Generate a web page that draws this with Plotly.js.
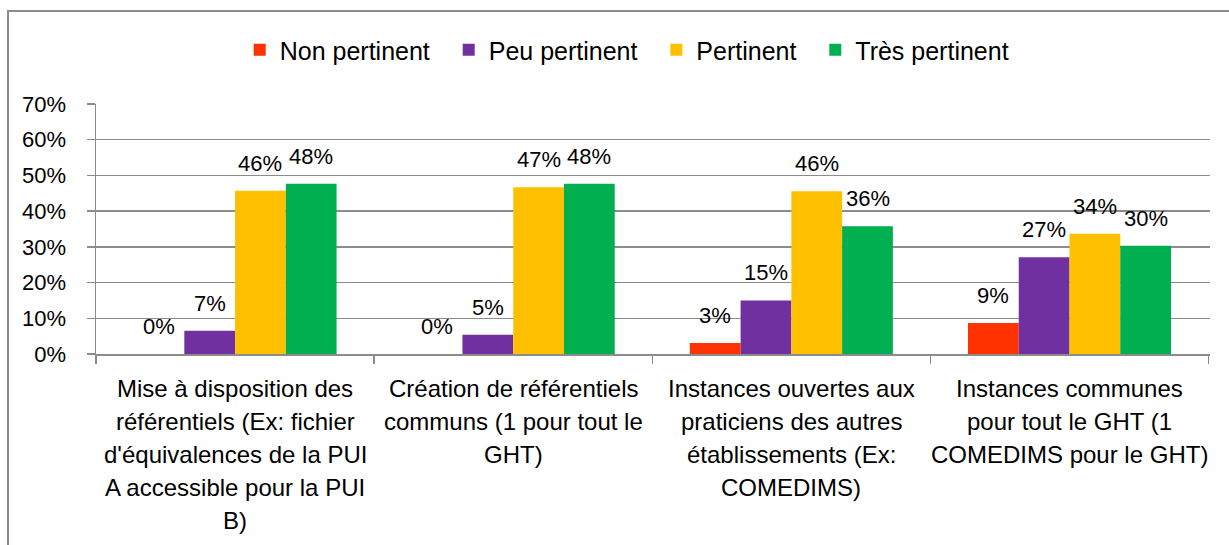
<!DOCTYPE html>
<html>
<head>
<meta charset="utf-8">
<script src="https://cdn.plot.ly/plotly-3.0.1.min.js"></script>
<style>
  html, body { margin: 0; padding: 0; background: #ffffff; }
  #frame { position: absolute; left: 7px; top: 10px; width: 1240px; height: 560px;
           border-left: 2px solid #8c8c8c; border-top: 2px solid #8c8c8c; }
  #chart { position: absolute; left: 0; top: 0; width: 1229px; height: 545px; }
</style>
</head>
<body>
<div id="frame"></div>
<div id="chart"></div>
<script>
const categories = [
  "Mise à disposition des<br>référentiels (Ex: fichier<br>d'équivalences de la PUI<br>A accessible pour la PUI<br>B)",
  "Création de référentiels<br>communs (1 pour tout le<br>GHT)",
  "Instances ouvertes aux<br>praticiens des autres<br>établissements (Ex:<br>COMEDIMS)",
  "Instances communes<br>pour tout le GHT (1<br>COMEDIMS pour le GHT)"
];
const seriesNames = ["Non pertinent", "Peu pertinent", "Pertinent", "Très pertinent"];
const nonPertinent  = [0.000, 0.000, 0.031, 0.087];
const peuPertinent  = [0.065, 0.054, 0.150, 0.271];
const pertinent     = [0.457, 0.467, 0.456, 0.337];
const tresPertinent = [0.477, 0.477, 0.358, 0.303];
const colors = ["#FF3300", "#7030A0", "#FFC000", "#00B050"];

const allValues = [nonPertinent, peuPertinent, pertinent, tresPertinent];
const FONT = "'Liberation Sans', Arial, sans-serif";

const W = 1229, H = 545;
const margin = { l: 96, r: 19, t: 104, b: 191, pad: 0 };
const BARGAP = 0.27;
const plotW = W - margin.l - margin.r;
const barW = plotW / categories.length * (1 - BARGAP) / allValues.length;

const traces = allValues.map((vals, i) => ({
  type: "bar",
  name: seriesNames[i] + "\u00a0\u00a0",
  x: categories,
  y: vals,
  marker: { color: colors[i] },
  hoverinfo: "skip"
}));

const annotations = [];
// data labels above each bar
allValues.forEach((vals, i) => {
  vals.forEach((v, c) => {
    annotations.push({
      x: categories[c], y: v, xref: "x", yref: "y",
      text: Math.round(v * 100) + "%",
      showarrow: false, xanchor: "center", yanchor: "bottom",
      xshift: (i - (allValues.length - 1) / 2) * barW, yshift: 13,
      font: { family: FONT, size: 22, color: "#000000" }
    });
  });
});
// category labels, line by line
categories.forEach((cat) => {
  cat.split("<br>").forEach((line, j) => {
    annotations.push({
      x: cat, y: 0, xref: "x", yref: "paper",
      text: line, showarrow: false, xanchor: "center", yanchor: "middle",
      yshift: -34 - 33 * j,
      font: { family: FONT, size: 24, color: "#000000" }
    });
  });
});

const layout = {
  width: W,
  height: H,
  margin: margin,
  paper_bgcolor: "rgba(0,0,0,0)",
  plot_bgcolor: "rgba(0,0,0,0)",
  font: { family: FONT, size: 22, color: "#000000" },
  barmode: "group",
  bargap: BARGAP,
  bargroupgap: 0,
  showlegend: true,
  legend: {
    orientation: "h",
    x: 0.129, xanchor: "left",
    y: 1.216, yanchor: "middle",
    font: { family: FONT, size: 25, color: "#000000" },
    traceorder: "normal"
  },
  annotations: annotations,
  xaxis: {
    type: "category",
    showline: true, linecolor: "#8c8c8c", linewidth: 1.5,
    ticks: "outside", tickson: "boundaries", ticklen: 8, tickcolor: "#8c8c8c", tickwidth: 1.5,
    showticklabels: false,
    showgrid: false, zeroline: false
  },
  yaxis: {
    range: [0, 0.7], dtick: 0.1, tickformat: ".0%",
    showline: true, linecolor: "#8c8c8c", linewidth: 1.5,
    ticks: "outside", ticklen: 8, tickcolor: "#8c8c8c", tickwidth: 1.5,
    ticklabelstandoff: 16,
    showgrid: true, gridcolor: "#8c8c8c", gridwidth: 1.5,
    zeroline: false,
    tickfont: { family: FONT, size: 22, color: "#000000" }
  }
};

Plotly.newPlot("chart", traces, layout, { staticPlot: true, displayModeBar: false });
</script>
</body>
</html>
